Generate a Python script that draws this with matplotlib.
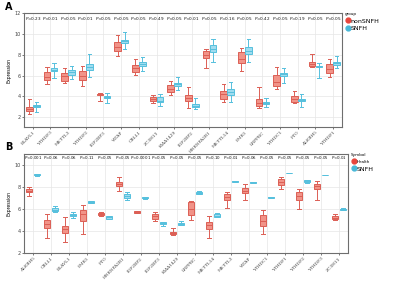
import matplotlib
matplotlib.use("Agg")
import matplotlib.pyplot as plt
from matplotlib.lines import Line2D

# ---- panel A data (nonSNFH vs SNFH) ----
genes_a = ["ELAVL1", "YTHDF3", "METTL3", "YTHDF2", "IGF2BP3", "WTAP", "CBLL1", "ZC3H13",
           "KIAA1429", "IGF2BP2", "HNRNPA2B1", "METTL14", "FMR1", "LRPPRC", "YTHDC1",
           "FTO", "ALKBH5", "YTHDF1"]
p_a = ["P=0.23", "P<0.01", "P<0.05", "P<0.01", "P<0.05", "P<0.05", "P<0.05", "P=0.49",
       "P<0.05", "P<0.01", "P<0.05", "P=0.16", "P<0.05", "P=0.42", "P<0.05", "P=0.19",
       "P<0.05", "P<0.05"]
# whisker low, q1, median, q3, whisker high
a_non_lo  = [2.26, 5.20, 5.30, 5.02, 3.55, 7.90, 6.06, 3.32, 4.16, 2.90, 6.70, 3.42, 6.47, 2.90, 4.70, 3.32, 6.85, 5.83]
a_non_q1  = [2.58, 5.60, 5.50, 5.57, 4.13, 8.40, 6.32, 3.52, 4.45, 3.52, 7.70, 3.74, 7.19, 3.09, 5.02, 3.48, 6.96, 6.22]
a_non_med = [2.77, 5.90, 5.95, 6.00, 4.20, 8.70, 6.70, 3.70, 4.75, 3.80, 8.00, 4.20, 7.60, 3.35, 5.40, 3.75, 7.15, 6.60]
a_non_q3  = [3.00, 6.35, 6.20, 6.47, 4.25, 9.20, 7.02, 3.93, 5.06, 4.10, 8.31, 4.54, 8.25, 3.71, 6.06, 4.03, 7.34, 7.09]
a_non_hi  = [3.74, 6.80, 6.76, 6.93, 4.35, 9.90, 7.57, 4.10, 5.48, 4.87, 8.57, 5.19, 8.63, 4.87, 6.80, 4.54, 8.09, 7.60]

a_sn_lo  = [2.50, 5.74, 5.67, 5.90, 3.35, 8.55, 6.44, 3.06, 4.60, 2.74, 7.28, 3.42, 7.28, 2.97, 5.30, 3.00, 5.74, 6.70]
a_sn_q1  = [2.97, 6.44, 6.06, 6.54, 3.85, 9.15, 6.93, 3.45, 5.00, 3.00, 8.25, 4.10, 8.09, 3.23, 5.99, 3.55, 6.80, 7.02]
a_sn_med = [3.06, 6.55, 6.30, 6.85, 3.95, 9.30, 7.15, 3.60, 5.15, 3.10, 8.55, 4.40, 8.40, 3.40, 6.10, 3.65, 6.90, 7.20]
a_sn_q3  = [3.16, 6.70, 6.54, 7.12, 4.05, 9.45, 7.34, 3.90, 5.30, 3.23, 8.89, 4.67, 8.70, 3.48, 6.22, 3.77, 6.96, 7.34]
a_sn_hi  = [3.45, 7.20, 6.96, 8.09, 4.35, 10.20, 7.75, 4.22, 5.83, 3.80, 9.54, 5.35, 9.50, 3.80, 6.70, 4.19, 7.19, 7.83]

# ---- panel B data (Health vs SNFH) ----
genes_b = ["ALKBH5", "CBLL1", "ELAVL1", "FMR1", "FTO", "HNRNPA2B1", "IGF2BP2", "IGF2BP3",
           "KIAA1429", "LRPPRC", "METTL14", "METTL3", "WTAP", "YTHDC1", "YTHDF1", "YTHDF2",
           "YTHDF3", "ZC3H13"]
p_b = ["P<0.001", "P=0.06", "P=0.06", "P=0.11", "P<0.05", "P<0.05", "P<0.000 1", "P<0.05",
       "P<0.05", "P<0.05", "P=0.10", "P<0.01", "P=0.06", "P<0.05", "P<0.05", "P<0.05",
       "P<0.05", "P<0.01"]
b_h_lo  = [7.20, 3.32, 2.96, 3.77, 5.35, 7.66, 5.60, 4.95, 3.60, 4.97, 3.32, 6.05, 6.86, 3.71, 7.82, 6.00, 6.83, 5.00]
b_h_q1  = [7.51, 4.31, 3.83, 4.88, 5.42, 8.05, 5.65, 5.12, 3.70, 5.42, 4.22, 6.83, 7.45, 4.43, 8.21, 6.83, 7.82, 5.06]
b_h_med = [7.65, 4.65, 4.15, 5.50, 5.55, 8.25, 5.70, 5.40, 3.80, 6.00, 4.55, 7.10, 7.65, 4.95, 8.45, 7.20, 8.05, 5.20]
b_h_q3  = [7.81, 4.97, 4.43, 5.87, 5.63, 8.41, 5.80, 5.57, 3.92, 6.62, 4.82, 7.37, 7.90, 5.42, 8.72, 7.58, 8.26, 5.36]
b_h_hi  = [7.96, 5.57, 5.27, 6.40, 5.70, 8.92, 5.85, 5.70, 4.30, 6.75, 5.33, 7.52, 8.26, 5.87, 8.87, 7.82, 8.50, 5.50]

b_s_lo  = [9.00, 5.75, 5.20, 6.50, 5.10, 6.80, 6.95, 4.45, 4.50, 7.35, 5.25, 8.42, 8.38, 7.02, 9.23, 8.40, 9.08, 5.92]
b_s_q1  = [9.05, 5.78, 5.36, 6.55, 5.12, 7.00, 6.97, 4.61, 4.52, 7.40, 5.27, 8.45, 8.40, 7.04, 9.25, 8.45, 9.09, 5.95]
b_s_med = [9.10, 5.95, 5.45, 6.62, 5.25, 7.20, 7.00, 4.72, 4.62, 7.47, 5.40, 8.50, 8.42, 7.07, 9.27, 8.50, 9.10, 6.00]
b_s_q3  = [9.15, 6.07, 5.57, 6.70, 5.33, 7.37, 7.05, 4.82, 4.72, 7.55, 5.51, 8.55, 8.45, 7.10, 9.29, 8.60, 9.11, 6.04]
b_s_hi  = [9.20, 6.26, 5.75, 6.75, 5.40, 7.50, 7.08, 4.85, 4.95, 7.60, 5.65, 8.58, 8.47, 7.12, 9.31, 8.65, 9.12, 6.06]

RED_FILL, RED_EDGE = "#f19388", "#dc5f55"
BLUE_FILL, BLUE_EDGE = "#9fdcef", "#56c0dd"
RED_DOT, BLUE_DOT = "#e8453c", "#48b8d8"


def stats(lo, q1, med, q3, hi):
    return [dict(whislo=a, q1=b, med=c, q3=d, whishi=e, fliers=[])
            for a, b, c, d, e in zip(lo, q1, med, q3, hi)]


def draw_pair(ax, st, fill, edge, pos, width):
    ax.bxp(st, positions=pos, widths=width, patch_artist=True, showfliers=False,
           boxprops=dict(facecolor=fill, edgecolor=edge, linewidth=0.7),
           medianprops=dict(color=edge, linewidth=0.7),
           whiskerprops=dict(color=edge, linewidth=0.7),
           capprops=dict(color=edge, linewidth=0.7), capwidths=width * 0.5)


def style(ax, genes, pvals, ylim, yticks, ptext_y, psize):
    n = len(genes)
    ax.set_xlim(-0.5, n - 0.5)
    ax.set_ylim(*ylim)
    ax.set_yticks(yticks)
    ax.set_xticks(range(n))
    ax.set_xticklabels(genes, rotation=45, ha="right", rotation_mode="anchor",
                       fontsize=3.2, family="DejaVu Serif", color="#444444")
    ax.tick_params(axis="y", labelsize=3.5, length=1.5, width=0.5, pad=1, colors="#444444")
    ax.tick_params(axis="x", length=1.5, width=0.5, pad=1, colors="#444444")
    ax.grid(True, color="#e6e6e6", linewidth=0.5)
    ax.set_axisbelow(True)
    for s in ax.spines.values():
        s.set_color("#6e6e6e")
        s.set_linewidth(0.8)
    ax.set_ylabel("Expression", fontsize=3.3, labelpad=2)
    for i, p in enumerate(pvals):
        ax.text(i, ptext_y, r"$\mathit{P}$" + p[1:], ha="center", va="center",
                fontsize=psize, color="#111111")


fig = plt.figure(figsize=(4, 2.83), dpi=100)

# panel A
ax1 = fig.add_axes([0.06, 0.551, 0.795, 0.403])
xa = list(range(len(genes_a)))
draw_pair(ax1, stats(a_non_lo, a_non_q1, a_non_med, a_non_q3, a_non_hi),
          RED_FILL, RED_EDGE, [x - 0.2 for x in xa], 0.38)
draw_pair(ax1, stats(a_sn_lo, a_sn_q1, a_sn_med, a_sn_q3, a_sn_hi),
          BLUE_FILL, BLUE_EDGE, [x + 0.2 for x in xa], 0.38)
style(ax1, genes_a, p_a, (1.05, 12), [2, 4, 6, 8, 10, 12], 11.45, 3.0)

# panel B
ax2 = fig.add_axes([0.06, 0.106, 0.81, 0.35])
xb = list(range(len(genes_b)))
draw_pair(ax2, stats(b_h_lo, b_h_q1, b_h_med, b_h_q3, b_h_hi),
          RED_FILL, RED_EDGE, [x - 0.22 for x in xb], 0.35)
draw_pair(ax2, stats(b_s_lo, b_s_q1, b_s_med, b_s_q3, b_s_hi),
          BLUE_FILL, BLUE_EDGE, [x + 0.22 for x in xb], 0.35)
style(ax2, genes_b, p_b, (2, 11), [2, 4, 6, 8, 10], 10.65, 2.8)

fig.text(0.012, 0.975, "A", fontsize=7, fontweight="bold", va="center")
fig.text(0.012, 0.48, "B", fontsize=7, fontweight="bold", va="center")

# legends
h_a = [Line2D([], [], marker="o", ls="", color=RED_DOT, markersize=3.5),
       Line2D([], [], marker="o", ls="", color=BLUE_DOT, markersize=3.5)]
leg1 = fig.legend(h_a, ["nonSNFH", "SNFH"], title="group", loc="upper left",
                  bbox_to_anchor=(0.855, 0.965), frameon=False, fontsize=4.5,
                  title_fontsize=3, handletextpad=0.0, labelspacing=0.3,
                  borderaxespad=0, handlelength=1.0)
leg1._legend_box.align = "left"

leg2 = fig.legend(h_a, ["Health", "SNFH"], title="Symbol", loc="upper left",
                  bbox_to_anchor=(0.87, 0.468), frameon=False, fontsize=4.5,
                  title_fontsize=3, handletextpad=0.0, labelspacing=0.3,
                  borderaxespad=0, handlelength=1.0)
leg2._legend_box.align = "left"
leg2.get_texts()[0].set_fontsize(3)

fig.savefig("out.png", dpi=100)
